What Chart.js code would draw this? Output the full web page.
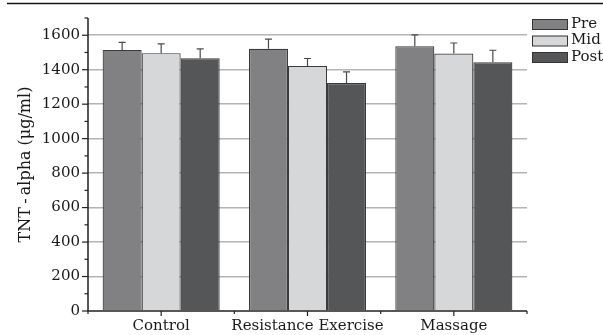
<!DOCTYPE html>
<html>
<head>
<meta charset="utf-8">
<script src="https://cdn.jsdelivr.net/npm/chart.js@4.4.1/dist/chart.umd.min.js"></script>
<style>
  html, body { margin: 0; padding: 0; background: #fff; }
  #wrap { width: 603px; height: 335px; position: relative; }
</style>
</head>
<body>
<div id="wrap"><canvas id="c" width="603" height="335"></canvas></div>
<script>
// TNT-alpha by group and time point (means with SD bars)
const groups = ['Control', 'Resistance Exercise', 'Massage'];
const seriesNames = ['Pre', 'Mid', 'Post'];
const preValues = [1515, 1521, 1536];
const midValues = [1496, 1422, 1494];
const postValues = [1467, 1323, 1443];
const preErr = [43, 56, 66];
const midErr = [54, 43, 61];
const postErr = [54, 64, 70];
const yTickLabels = [0, 200, 400, 600, 800, 1000, 1200, 1400, 1600];

const FONT = '"DejaVu Serif", serif';
const colors = ['#818184', '#d6d7d9', '#555658'];

const seriesValues = [preValues, midValues, postValues];
const seriesErrors = [preErr, midErr, postErr];

// Error bars on top of each bar
const errorBars = {
  id: 'errorBars',
  afterDatasetsDraw(chart) {
    const ctx = chart.ctx;
    const y = chart.scales.y;
    ctx.save();
    ctx.strokeStyle = '#4a4a4a';
    ctx.lineWidth = 1.2;
    chart.data.datasets.forEach((ds, di) => {
      const meta = chart.getDatasetMeta(di);
      meta.data.forEach((bar, i) => {
        const top = y.getPixelForValue(ds.data[i] + ds.errors[i]);
        const base = y.getPixelForValue(ds.data[i]);
        ctx.beginPath();
        ctx.moveTo(bar.x, base);
        ctx.lineTo(bar.x, top);
        ctx.moveTo(bar.x - 3.5, top);
        ctx.lineTo(bar.x + 3.5, top);
        ctx.stroke();
      });
    });
    ctx.restore();
  }
};

// Axis lines, tick marks, legend and the rule across the top
const frame = {
  id: 'frame',
  afterDraw(chart) {
    const ctx = chart.ctx;
    const { left, right, top, bottom } = chart.chartArea;
    const y = chart.scales.y;
    const x = chart.scales.x;
    ctx.save();

    // rule across the top of the figure
    ctx.strokeStyle = '#111';
    ctx.lineWidth = 1.5;
    ctx.beginPath();
    ctx.moveTo(7, 3.5);
    ctx.lineTo(603, 3.5);
    ctx.stroke();

    // axes
    ctx.strokeStyle = '#222';
    ctx.lineWidth = 1.5;
    ctx.beginPath();
    ctx.moveTo(left, top);
    ctx.lineTo(left, bottom);
    ctx.lineTo(right, bottom);
    ctx.stroke();

    // y ticks: long at labelled values, short in between
    ctx.lineWidth = 1.2;
    for (let v = 0; v <= y.max; v += 100) {
      const py = y.getPixelForValue(v);
      const len = (v % 200 === 0) ? 6 : 3.5;
      ctx.beginPath();
      ctx.moveTo(left - len, py);
      ctx.lineTo(left, py);
      ctx.stroke();
    }

    // x ticks at group centres and group boundaries
    for (let i = 0; i < groups.length; i++) {
      const cx = x.getPixelForValue(i);
      ctx.beginPath();
      ctx.moveTo(cx, bottom);
      ctx.lineTo(cx, bottom + 5);
      ctx.stroke();
    }
    const step = (right - left) / groups.length;
    for (let i = 0; i <= groups.length; i++) {
      const bx = left + step * i;
      ctx.beginPath();
      ctx.moveTo(bx, bottom);
      ctx.lineTo(bx, bottom + 3);
      ctx.stroke();
    }

    // legend
    ctx.font = '15px ' + FONT;
    ctx.textBaseline = 'middle';
    ctx.textAlign = 'left';
    chart.data.datasets.forEach((ds, i) => {
      const by = 19 + i * 16.5;
      ctx.fillStyle = ds.backgroundColor;
      ctx.fillRect(532.5, by + 0.5, 35, 10);
      ctx.strokeStyle = '#333';
      ctx.lineWidth = 1;
      ctx.strokeRect(532.5, by + 0.5, 35, 10);
      ctx.fillStyle = '#1a1a1a';
      ctx.fillText(ds.label, 571, by + 5);
    });

    ctx.restore();
  }
};

new Chart(document.getElementById('c'), {
  type: 'bar',
  data: {
    labels: groups,
    datasets: seriesNames.map((name, i) => ({
      label: name,
      data: seriesValues[i],
      errors: seriesErrors[i],
      backgroundColor: colors[i],
      borderColor: '#3a3a3a',
      borderWidth: 1.2,
      borderSkipped: 'bottom',
      categoryPercentage: 0.8,
      barPercentage: 1.0
    }))
  },
  options: {
    responsive: false,
    animation: false,
    devicePixelRatio: 1,
    layout: { padding: { left: 0, right: 76, top: 18, bottom: 0 } },
    plugins: {
      legend: { display: false },
      tooltip: { enabled: false }
    },
    scales: {
      x: {
        offset: true,
        grid: { display: false, drawTicks: false },
        border: { display: false },
        afterFit(scale) { scale.height = 24; },
        ticks: {
          color: '#1a1a1a',
          font: { family: FONT, size: 15 },
          padding: 6,
          maxRotation: 0,
          autoSkip: false
        }
      },
      y: {
        min: 0,
        max: 1700,
        afterBuildTicks(scale) {
          const t = [];
          for (let v = 0; v <= 1700; v += 100) t.push({ value: v });
          scale.ticks = t;
        },
        afterFit(scale) { scale.width = 88; },
        grid: {
          drawTicks: false,
          color(ctx) {
            const v = ctx.tick && ctx.tick.value;
            return (v > 0 && yTickLabels.includes(v)) ? '#b4b4b4' : 'rgba(0,0,0,0)';
          },
          lineWidth: 1.5
        },
        border: { display: false },
        ticks: {
          color: '#1a1a1a',
          font: { family: FONT, size: 15 },
          padding: 8,
          autoSkip: false,
          callback(v) { return yTickLabels.includes(v) ? String(v) : ''; }
        },
        title: {
          display: true,
          text: 'TNT\u2009-\u2009alpha (μg/ml)',
          color: '#1a1a1a',
          font: { family: FONT, size: 16 },
          padding: { top: 16, bottom: 0 }
        }
      }
    }
  },
  plugins: [errorBars, frame]
});
</script>
</body>
</html>
